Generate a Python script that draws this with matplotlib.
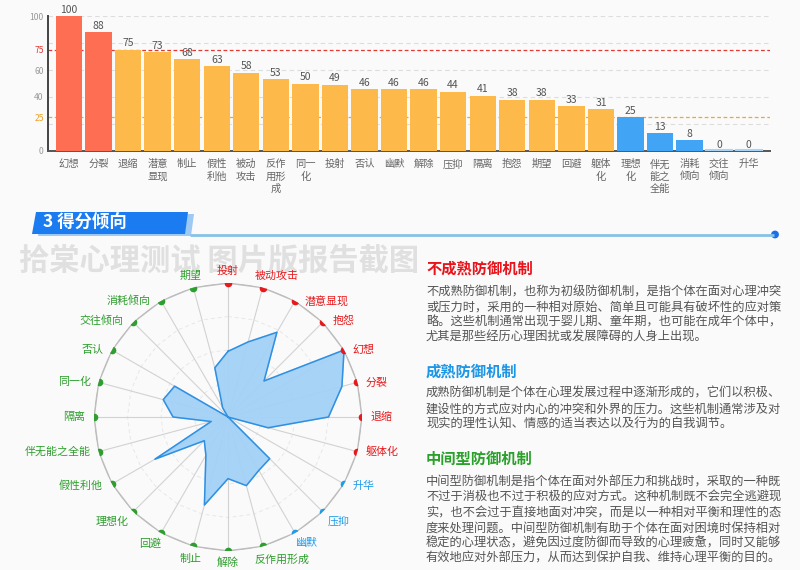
import numpy as np
import matplotlib
matplotlib.use('Agg')
import matplotlib.pyplot as plt
from matplotlib.patches import Polygon, Circle
from matplotlib.path import Path
from matplotlib.projections import register_projection
from matplotlib.projections.polar import PolarAxes

plt.rcParams['font.family'] = ['Noto Sans CJK SC', 'DejaVu Sans']

# bar chart data (sorted scores)
bar_names = ['幻想', '分裂', '退缩', '潜意\n显现', '制止', '假性\n利他', '被动\n攻击', '反作\n用形\n成',
             '同一\n化', '投射', '否认', '幽默', '解除', '压抑', '隔离', '抱怨', '期望', '回避',
             '躯体\n化', '理想\n化', '伴无\n能之\n全能', '消耗\n倾向', '交往\n倾向', '升华']
bar_values = [100, 88, 75, 73, 68, 63, 58, 53, 50, 49, 46, 46, 46, 44, 41, 38, 38, 33, 31, 25, 13, 8, 0, 0]

# radar data, clockwise from the top
radar_names = ['投射', '被动攻击', '潜意显现', '抱怨', '幻想', '分裂', '退缩', '躯体化', '升华', '压抑',
               '幽默', '反作用形成', '解除', '制止', '回避', '理想化', '假性利他', '伴无能之全能',
               '隔离', '同一化', '否认', '交往倾向', '消耗倾向', '期望']
radar_values = [49, 58, 73, 38, 100, 88, 75, 31, 0, 44, 46, 53, 46, 68, 33, 25, 63, 13, 41, 50, 46, 0, 8, 38]
radar_groups = ['r', 'r', 'r', 'r', 'r', 'r', 'r', 'r', 'b', 'b', 'b', 'g', 'g', 'g', 'g', 'g', 'g', 'g',
                'g', 'g', 'g', 'g', 'g', 'g']

heading1 = '不成熟防御机制'
para1 = ['不成熟防御机制，也称为初级防御机制，是指个体在面对心理冲突',
         '或压力时，采用的一种相对原始、简单且可能具有破坏性的应对策',
         '略。这些机制通常出现于婴儿期、童年期，也可能在成年个体中，',
         '尤其是那些经历心理困扰或发展障碍的人身上出现。']
heading2 = '成熟防御机制'
para2 = ['成熟防御机制是个体在心理发展过程中逐渐形成的，它们以积极、',
         '建设性的方式应对内心的冲突和外界的压力。这些机制通常涉及对',
         '现实的理性认知、情感的适当表达以及行为的自我调节。']
heading3 = '中间型防御机制'
para3 = ['中间型防御机制是指个体在面对外部压力和挑战时，采取的一种既',
         '不过于消极也不过于积极的应对方式。这种机制既不会完全逃避现',
         '实，也不会过于直接地面对冲突，而是以一种相对平衡和理性的态',
         '度来处理问题。中间型防御机制有助于个体在面对困境时保持相对',
         '稳定的心理状态，避免因过度防御而导致的心理疲惫，同时又能够',
         '有效地应对外部压力，从而达到保护自我、维持心理平衡的目的。']

RED, ORANGE, BLUE = '#fd6e52', '#fdb94a', '#42a4f4'
grp_color = {'r': '#e8191c', 'b': '#1f9de8', 'g': '#2e9e2e'}
N_AX = len(radar_names)


# polar axes that keeps straight edges between spokes (like the mpl radar example)
class RadarTransform(PolarAxes.PolarTransform):
    def transform_path_non_affine(self, path):
        if path._interpolation_steps > 1:
            path = path.interpolated(N_AX)
        return Path(self.transform(path.vertices), path.codes)


class RadarAxes(PolarAxes):
    name = 'radar24'
    PolarTransform = RadarTransform


register_projection(RadarAxes)

W, H = 800, 570
fig = plt.figure(figsize=(8, 5.7), dpi=100, facecolor='#fafafa')

# overlay in pixel coords for headers and text
bg = fig.add_axes([0, 0, 1, 1])
bg.set_xlim(0, W)
bg.set_ylim(H, 0)
bg.axis('off')
bg.patch.set_visible(False)

# section header
bg.add_patch(Polygon([(42, 214), (194, 214), (191, 236), (38, 236)], closed=True, color='#9ccaf5', lw=0))
bg.add_patch(Polygon([(36, 212), (188, 212), (185, 234), (32, 234)], closed=True, color='#1a7cf0', lw=0))
bg.text(43, 223, '3 得分倾向', color='white', fontsize=12.5, fontweight='bold', va='center', ha='left')
bg.plot([190, 774], [234.5, 234.5], color='#86c1e6', lw=2, solid_capstyle='butt')
bg.add_patch(Circle((775, 234.5), 3.2, color='#1a6fe8'))

# watermark
bg.text(19, 261, '拾棠心理测试 图片版报告截图', color='#e0e0e0', fontsize=21.8, fontweight='bold',
        va='center', ha='left')

# right column text
def block(y0, title, color, lines, ty):
    bg.text(426, ty, title, color=color, fontsize=11, fontweight='bold', va='center', ha='left')
    for k, ln in enumerate(lines):
        bg.text(426, y0 + k * 15.3, ln, color='#555555', fontsize=8.8, va='center', ha='left')

block(291.7, heading1, '#e8141c', para1, 269)
block(393.3, heading2, '#1e96e6', para2, 372)
block(482.0, heading3, '#2aa12a', para3, 459)

# ---- bar chart ----
ax = fig.add_axes([48 / W, (H - 151) / H, 722 / W, 135 / H])
ax.patch.set_visible(False)
x = np.arange(len(bar_values))
cols = [RED if v > 75 else (ORANGE if v > 25 else BLUE) for v in bar_values]
bars = ax.bar(x, bar_values, width=0.89, color=cols, zorder=3)
for b, v in zip(bars, bar_values):
    if v == 0:
        ax.plot([b.get_x(), b.get_x() + b.get_width()], [0.4, 0.4], color='#a8d4f8', lw=1.5, zorder=4)
ax.bar_label(bars, labels=[str(v) for v in bar_values], padding=1, fontsize=7.5, color='#555555')
for g in [20, 40, 60, 80, 100]:
    ax.axhline(g, color='#dddddd', lw=0.8, ls=(0, (4, 3)), zorder=1)
ax.axhline(75, color='#e23a32', lw=0.9, ls=(0, (3, 2)), zorder=2)
ax.axhline(25, color='#f5a623', lw=0.9, ls=(0, (3, 2)), zorder=2)
ax.set_xlim(-0.71, 23.72)
ax.set_ylim(0, 100)
ax.set_yticks([0, 25, 40, 60, 75, 100])
ax.set_yticklabels(['0', '25', '40', '60', '75', '100'])
ax.tick_params(axis='y', length=0, pad=3, labelsize=6.2, labelcolor='#999999')
for t in ax.get_yticklabels():
    if t.get_text() == '75':
        t.set_color('#e23a32')
    elif t.get_text() == '25':
        t.set_color('#f0a020')
ax.set_xticks(x)
ax.set_xticklabels(bar_names, fontsize=7.4, color='#666666', linespacing=1.3)
ax.tick_params(axis='x', length=0, pad=5.8)
for s in ['top', 'right']:
    ax.spines[s].set_visible(False)
ax.spines['left'].set_color('#444444')
ax.spines['left'].set_linewidth(1.4)
ax.spines['bottom'].set_color('#555555')
ax.spines['bottom'].set_linewidth(1.4)

# ---- radar ----
cx, cy, R = 228, 417, 134
rax = fig.add_axes([(cx - R) / W, (H - cy - R) / H, 2 * R / W, 2 * R / H], projection='radar24')
rax.patch.set_visible(False)
rax.set_theta_zero_location('N')
rax.set_theta_direction(-1)
rax.set_ylim(0, 100)
rax.grid(False)
rax.spines['polar'].set_visible(False)
rax.set_xticks([])
rax.set_yticks([])

th = np.arange(N_AX) * 2 * np.pi / N_AX
thc = np.append(th, th[0])
for ring in [25, 50, 75]:
    rax.plot(thc, [ring] * (N_AX + 1), color='#e8e8e8', lw=0.7, ls=(0, (4, 3)))
for t in th:
    rax.plot([t, t], [0, 100], color='#d2d2d2', lw=0.8)
rax.plot(thc, [100] * (N_AX + 1), color='#bdbdbd', lw=1.2)
vals = np.append(radar_values, radar_values[0])
rax.fill(thc, vals, color='#a3d1f7', alpha=0.95, zorder=3)
rax.plot(thc, vals, color='#2f90e2', lw=1.1, zorder=4)

# label offsets (outward x, downward y) in pixels by angle from horizontal
upper_off = {0: (9, 0), 15: (8, 0), 30: (8, 0), 45: (10, -2), 60: (10, 0), 75: (-8, -12), 90: (0, -12)}
lower_off = {0: (9, 0), 15: (8, 0), 30: (9, 2), 45: (5, 10), 60: (0, 10), 75: (-8, 13), 90: (0, 12)}
for t, name, g in zip(th, radar_names, radar_groups):
    c = grp_color[g]
    rax.plot([t], [100], 'o', color=c, ms=4.5, zorder=5)
    sx, sy = np.sin(t), np.cos(t)  # screen x / y direction
    elev = int(round(np.degrees(np.arcsin(min(1.0, abs(sy))))))
    ox, oy = (upper_off if sy > 0.01 else lower_off)[elev]
    if abs(sx) < 0.05:
        ha, dx = 'center', 0
    else:
        side = 1 if sx > 0 else -1
        ha = 'left' if side > 0 else 'right'
        if elev == 75:
            ha = 'left' if side > 0 else 'right'
        dx = side * ox
    rax.annotate(name, xy=(t, 100), xytext=(dx, -oy), textcoords='offset pixels', ha=ha, va='center',
                 fontsize=7.9, color=c, annotation_clip=False)

fig.savefig('out.png', dpi=100, facecolor=fig.get_facecolor())
